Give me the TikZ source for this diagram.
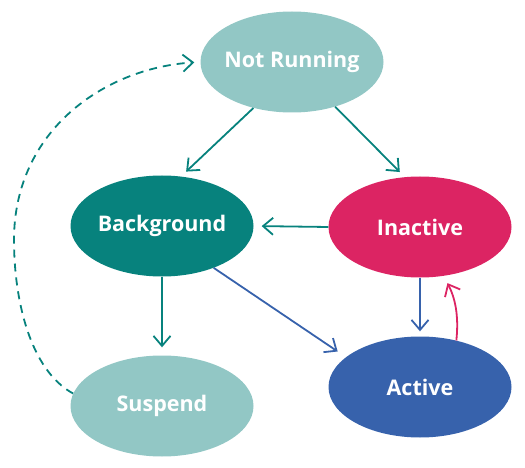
\documentclass[tikz,border=0pt]{standalone}
\usepackage{fontspec}
\setmainfont{Open Sans}
\usetikzlibrary{shapes.geometric,arrows.meta}
\definecolor{lteal}{HTML}{92C7C5}
\definecolor{dteal}{HTML}{07827D}
\definecolor{rosered}{HTML}{DC2463}
\definecolor{actblue}{HTML}{3762AC}
\tikzset{
  state/.style={ellipse, minimum width=183pt, minimum height=101pt, inner xsep=-15pt, inner ysep=0pt,
    text=white, font=\fontsize{21.5}{24}\selectfont\bfseries},
  conn/.style={line width=1.8pt, -{Straight Barb[length=10pt,width=17pt,line width=1.8pt]}},
}
\begin{document}
\begin{tikzpicture}[x=1pt,y=-1pt]
\useasboundingbox (0,0) rectangle (525,468);
\node[state, fill=lteal] (nr) at (292,62) {Not Running};
\node[state, fill=dteal] (bg) at (162,226) {Background};
\node[state, fill=rosered] (in) at (420,227) {Inactive};
\node[state, fill=lteal] (su) at (162,406) {Suspend};
\node[state, fill=actblue] (ac) at (420,387) {Active};
\coordinate (dl) at (14,240);
\draw[conn, dteal, shorten >=7pt] (nr.230) -- (bg.69);
\draw[conn, dteal, shorten >=7pt] (nr.314) -- (in.107);
\draw[conn, dteal, shorten >=8pt] (in.180) -- (bg.0);
\draw[conn, dteal, shorten >=8pt] (bg.270) -- (su.90);
\draw[conn, actblue, shorten >=10pt] (bg.321) -- (ac.158);
\draw[conn, actblue, shorten >=5pt] (in.270) -- (ac.90);
\draw[conn, rosered, shorten >=8pt] (ac.52) .. controls (459,315) and (455,298) .. (in.296);
\draw[conn, dteal, dash pattern=on 8pt off 6pt, shorten >=6pt]
  (su.172) .. controls (30,370) and (14,300) .. (dl)
  .. controls (14,130) and (105,68) .. (nr.180);
\end{tikzpicture}
\end{document}
